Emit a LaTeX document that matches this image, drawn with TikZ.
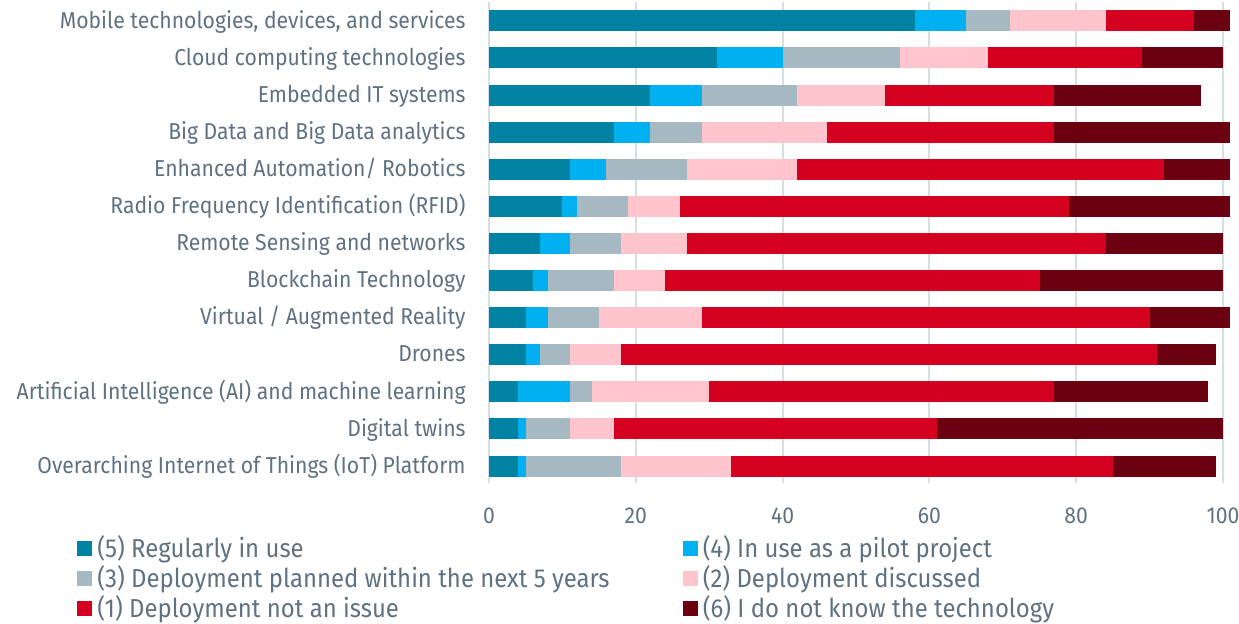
\documentclass[tikz,border=0pt]{standalone}
\usepackage{fontspec}
\setmainfont{Fira Sans}[FakeStretch=0.92]
\definecolor{c1}{RGB}{0,131,163}   % regularly in use
\definecolor{c2}{RGB}{0,176,240}   % pilot
\definecolor{c3}{RGB}{166,184,194} % planned
\definecolor{c4}{RGB}{255,196,204} % discussed
\definecolor{c5}{RGB}{212,0,32}    % not an issue
\definecolor{c6}{RGB}{107,0,16}    % do not know
\definecolor{txtgray}{RGB}{94,114,130}
\definecolor{gridgray}{RGB}{214,223,228}

\begin{document}
\begin{tikzpicture}[x=0.5pt,y=-0.5pt,
  lab/.style={anchor=base east,inner sep=0pt,text=txtgray,font=\fontsize{11.5}{13}\selectfont},
  tick/.style={anchor=base,inner sep=0pt,text=txtgray,font=\fontsize{11.5}{13}\selectfont},
  key/.style={anchor=base west,inner sep=0pt,text=txtgray,font=\fontsize{13}{15}\selectfont},
  keybox/.style={minimum size=7.5pt,inner sep=0pt}]

   \useasboundingbox (0,0) rectangle (1239,623);

   % grid and axis
   \foreach \v in {0,20,...,100}{
     \draw[gridgray,line width=1pt] (489+7.34*\v,2) -- (489+7.34*\v,483);
     \node[tick] (tick\v) at (489+7.34*\v,523) {\v};
   }

   % stacked bars
   \foreach \r/\txt/\vals in {
      0/{Mobile technologies, devices, and services}/{58,7,6,13,12,5},
      1/{Cloud computing technologies}/{31,9,16,12,21,11},
      2/{Embedded IT systems}/{22,7,13,12,23,20},
      3/{Big Data and Big Data analytics}/{17,5,7,17,31,24},
      4/{Enhanced Automation/ Robotics}/{11,5,11,15,50,9},
      5/{Radio Frequency Identification (RFID)}/{10,2,7,7,53,22},
      6/{Remote Sensing and networks}/{7,4,7,9,57,16},
      7/{Blockchain Technology}/{6,2,9,7,51,25},
      8/{Virtual / Augmented Reality}/{5,3,7,14,61,11},
      9/{Drones}/{5,2,4,7,73,8},
      10/{Artificial Intelligence (AI) and machine learning}/{4,7,3,16,47,21},
      11/{Digital twins}/{4,1,6,6,44,39},
      12/{Overarching Internet of Things (IoT) Platform}/{4,1,13,15,52,14}}{
     \pgfmathsetmacro\yc{20.8+37.1*\r}
     \node[lab] (label\r) at (466,\yc+7.2) {\txt};
     \foreach \w [count=\k, evaluate=\w as \xe using \xs+\w, remember=\xe as \xs (initially 0)] in \vals
       \fill[c\k] (489+7.34*\xs,\yc-10.5) rectangle (489+7.34*\xe,\yc+10.5);
   }

   % legend
   \foreach \col/\x/\y/\txt in {
      1/84.5/548/{(5) Regularly in use},
      3/84.5/578/{(3) Deployment planned within the next 5 years},
      5/84.5/608/{(1) Deployment not an issue},
      2/690/548/{(4) In use as a pilot project},
      4/690/578/{(2) Deployment discussed},
      6/690/608/{(6) I do not know the technology}}{
     \node[keybox,fill=c\col] (box\col) at (\x,\y) {};
     \node[key] (key\col) at (\x+12.5,\y+9) {\txt};
   }
\end{tikzpicture}
\end{document}
